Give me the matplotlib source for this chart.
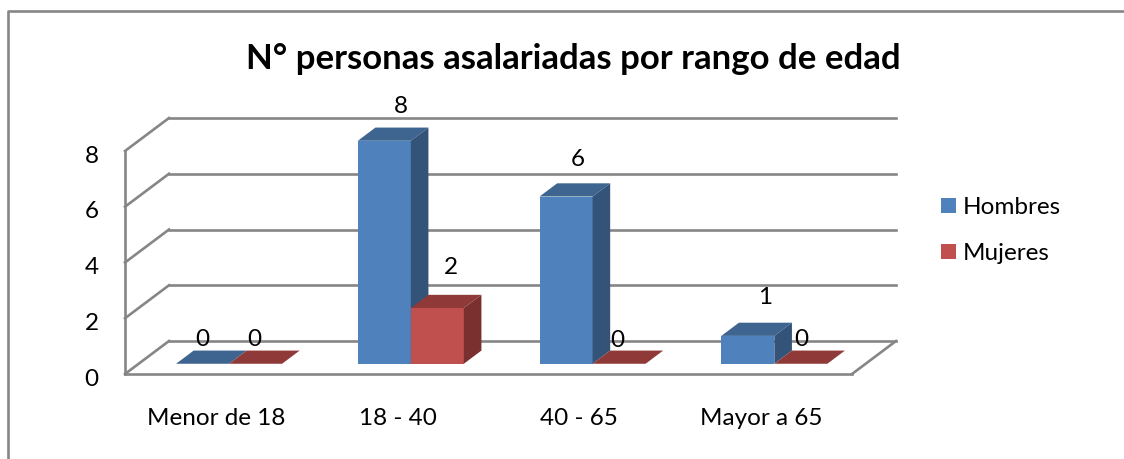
import numpy as np
import matplotlib
matplotlib.use("Agg")
import matplotlib.pyplot as plt
from matplotlib.lines import Line2D
from matplotlib.patches import Polygon, Rectangle
from matplotlib.transforms import ScaledTranslation

# data
categorias = ["Menor de 18", "18 - 40", "40 - 65", "Mayor a 65"]
hombres = [0, 8, 6, 1]
mujeres = [0, 2, 0, 0]
yticks = [0, 2, 4, 6, 8]

# colors (front, top, side)
azul = ["#4F81BD", "#3E6590", "#335379"]
rojo = ["#C0504D", "#8F3A38", "#7A302E"]
gris = "#868686"

# pixel layout of the original
W, H = 1124, 460
x0, x1 = 125, 852
y0, y8 = 375, 152
px_x = (x1 - x0) / 4
px_y = (y0 - y8) / 8
# depth of the floor, in data units
dx = 44 / px_x
dy = 33 / px_y
ancho = 53 / px_x
# front of the columns, measured along the depth
base_x = 0.3 * dx
base_y = 0.31 * dy

plt.rcParams["font.family"] = ["Lato", "DejaVu Sans"]
fig = plt.figure(figsize=(W / 100, H / 100), dpi=100)
ax = fig.add_axes([x0 / W, 1 - y0 / H, (x1 - x0) / W, (y0 - y8) / H])
ax.set_xlim(0, 4)
ax.set_ylim(0, 8)
ax.patch.set_visible(False)

# walls and floor
lw = 1.9
for t in yticks:
    ax.plot([0, dx], [t, t + dy], color=gris, lw=lw, clip_on=False, zorder=1)
    ax.plot([dx, 4 + dx], [t + dy, t + dy], color=gris, lw=lw, clip_on=False, zorder=1)
ax.plot([4, 4 + dx], [0, dy], color=gris, lw=lw, clip_on=False, zorder=1)
for s in ["top", "right"]:
    ax.spines[s].set_visible(False)
for s in ["left", "bottom"]:
    ax.spines[s].set_color(gris)
    ax.spines[s].set_linewidth(lw)

ax.set_yticks(yticks)
ax.set_xticks(np.arange(4) + 0.5)
ax.set_xticklabels(categorias)
ax.tick_params(axis="x", length=0, labelsize=17.5, pad=24)
ax.tick_params(axis="y", length=0, labelsize=17.5, pad=19)
# the y labels sit a little lower than matplotlib centres them
bajar = ScaledTranslation(0, -1.5 / 72, fig.dpi_scale_trans)
for lab in ax.get_yticklabels():
    lab.set_transform(lab.get_transform() + bajar)


def barra(x, v, colores, z):
    # front face plus the top and side of the 3d column
    sx, sy = 0.4 * dx, 0.4 * dy
    ax.bar(x, v, ancho, bottom=base_y, align="edge", color=colores[0], clip_on=False, zorder=z)
    top = base_y + v
    ax.add_patch(Polygon([(x, top), (x + ancho, top), (x + ancho + sx, top + sy), (x + sx, top + sy)],
                         facecolor=colores[1], clip_on=False, zorder=z))
    if v > 0:
        ax.add_patch(Polygon([(x + ancho, base_y), (x + ancho + sx, base_y + sy), (x + ancho + sx, top + sy), (x + ancho, top)],
                             facecolor=colores[2], clip_on=False, zorder=z))


for i in range(4):
    centro = i + 0.5 + base_x
    barra(centro - ancho, hombres[i], azul, 2 + i * 2)
    barra(centro, mujeres[i], rojo, 3 + i * 2)

# data labels, offset in pixels from the top centre of the front face
off_h = [(0, 25), (17, 35), (12, 38), (17, 39)]
off_m = [(-1, 25), (14, 42), (-2, 24), (0, 25)]
for i in range(4):
    centro = i + 0.5 + base_x
    for v, xc, o in [(hombres[i], centro - ancho / 2, off_h[i]), (mujeres[i], centro + ancho / 2, off_m[i])]:
        ax.annotate(str(v), (xc, v + base_y), xytext=(o[0] * 0.72, o[1] * 0.72), textcoords="offset points",
                    ha="center", va="center", fontsize=17.5, color="black", annotation_clip=False, zorder=20)

# outer frame: only the top and left edges show
fig.add_artist(Line2D([8 / W, 8 / W, 1], [0, 1 - 12 / H, 1 - 12 / H], transform=fig.transFigure, color=gris, lw=lw))

fig.text(573.5 / W, 1 - 59 / H, "N° personas asalariadas por rango de edad", ha="center", va="center",
         fontsize=25, fontweight="bold")

# legend
for nombre, color, yc in [("Hombres", azul[0], 206.5), ("Mujeres", rojo[0], 252.5)]:
    fig.add_artist(Rectangle((941 / W, 1 - (yc + 7.5) / H), 15 / W, 15 / H, transform=fig.transFigure,
                             facecolor=color, edgecolor="none"))
    fig.text(963 / W, 1 - (yc + 1) / H, nombre, ha="left", va="center", fontsize=17.5)

fig.savefig("out.png", dpi=100, facecolor="white")
